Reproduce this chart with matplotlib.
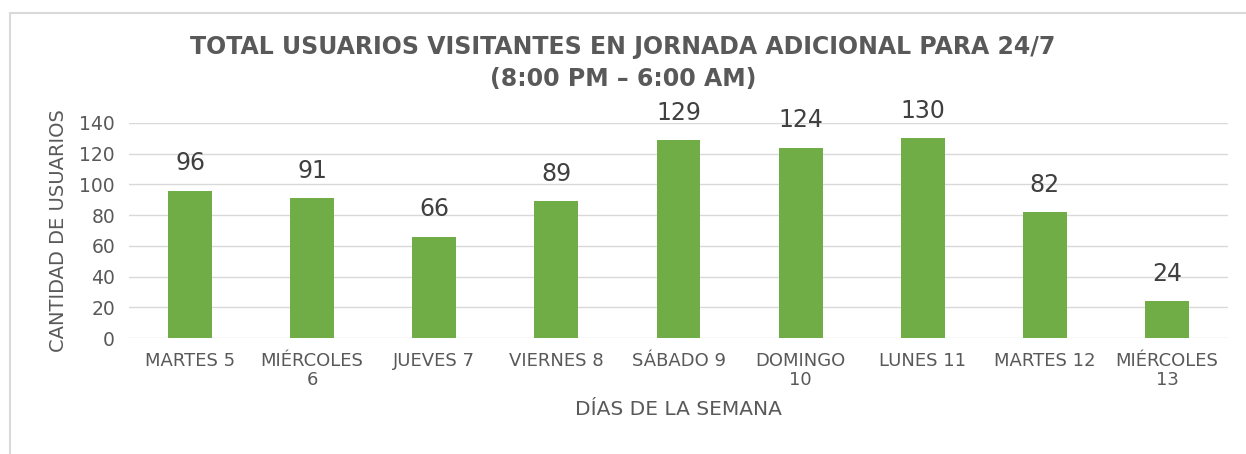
import matplotlib.pyplot as plt
from matplotlib.patches import Rectangle

dias = ["MARTES 5", "MIÉRCOLES\n6", "JUEVES 7", "VIERNES 8", "SÁBADO 9",
        "DOMINGO\n10", "LUNES 11", "MARTES 12", "MIÉRCOLES\n13"]
usuarios = [96, 91, 66, 89, 129, 124, 130, 82, 24]
y_ticks = [0, 20, 40, 60, 80, 100, 120, 140]

gris = "#595959"
verde = "#70AD47"

plt.rcParams['font.family'] = ['DejaVu Sans']

fig = plt.figure(figsize=(12.46, 4.54), dpi=100)
# marco del gráfico (solo arriba e izquierda visibles)
fig.patches.append(Rectangle((10 / 1246, -0.1), 1.2, 1 - 13 / 454 + 0.1,
                             transform=fig.transFigure, fill=False,
                             edgecolor="#D9D9D9", linewidth=1.5))

ax = fig.add_axes([129 / 1246, 1 - 338 / 454, 1099 / 1246, 215 / 454])
x = range(len(dias))
bars = ax.bar(x, usuarios, width=0.36, color=verde, zorder=3)
for b, v in zip(bars, usuarios):
    ax.text(b.get_x() + b.get_width() / 2, v + 10, str(v), ha="center", va="bottom",
            fontsize=17, color="#404040")

ax.set_xlim(-0.5, len(dias) - 0.5)
ax.set_ylim(0, 140)
ax.set_yticks(y_ticks)
ax.set_xticks(list(x))
ax.set_xticklabels(dias, fontsize=13, color=gris, linespacing=1.1)
ax.tick_params(axis="y", labelsize=13.5, colors=gris, length=0, pad=10)
ax.tick_params(axis="x", length=0, pad=10)
ax.grid(axis="y", color="#D9D9D9", linewidth=1, zorder=0)
for s in ax.spines.values():
    s.set_visible(False)

ax.set_xlabel("DÍAS DE LA SEMANA", fontsize=14.5, color=gris, labelpad=8)
ax.set_ylabel("CANTIDAD DE USUARIOS", fontsize=14, color=gris, labelpad=8)

fig.text(0.5, 1 - 47 / 454, "TOTAL USUARIOS VISITANTES EN JORNADA ADICIONAL PARA 24/7",
         ha="center", va="center", fontsize=17, fontweight="bold", color=gris)
fig.text(0.5, 1 - 79 / 454, "(8:00 PM – 6:00 AM)",
         ha="center", va="center", fontsize=17, fontweight="bold", color=gris)

fig.savefig("out.png", dpi=100)
